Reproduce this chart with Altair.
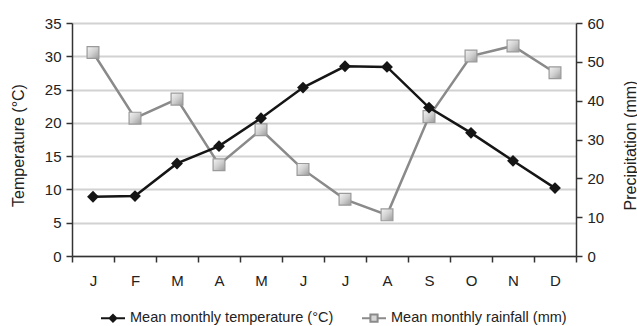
import altair as alt
import pandas as pd

months = ["Jan", "Feb", "Mar", "Apr", "May", "Jun", "Jul", "Aug", "Sep", "Oct", "Nov", "Dec"]
temperature = [8.9, 9.0, 13.9, 16.5, 20.7, 25.3, 28.5, 28.4, 22.3, 18.5, 14.3, 10.2]
rainfall = [52.4, 35.5, 40.4, 23.5, 32.5, 22.3, 14.6, 10.6, 35.9, 51.5, 54.1, 47.2]
series = ["Mean monthly temperature (°C)", "Mean monthly rainfall (mm)"]

df = pd.DataFrame({"month": months, "temp": temperature, "rain": rainfall})
leg_df = pd.DataFrame({"series": series})

FONT = "Liberation Sans"

x_enc = alt.X(
    "month:N",
    sort=months,
    scale=alt.Scale(type="band", paddingInner=0, paddingOuter=0),
    axis=alt.Axis(
        title=None, labelAngle=0, labelExpr="substring(datum.label, 0, 1)",
        tickBand="extent", tickSize=6, tickColor="#333", domainColor="#333",
        domainWidth=1.5, tickWidth=1.5, labelFontSize=15, labelPadding=11,
        labelColor="#222", labelFont=FONT, grid=False,
    ),
)

y_temp = alt.Y(
    "temp:Q",
    scale=alt.Scale(domain=[0, 35], nice=False),
    axis=alt.Axis(
        title="Temperature (°C)", orient="left", values=list(range(0, 36, 5)),
        grid=True, gridColor="#d2d2d2", gridWidth=2, domainColor="#333",
        domainWidth=1.5, tickColor="#333", tickWidth=1.5, tickSize=6,
        labelFontSize=15, labelColor="#222", labelFont=FONT, labelPadding=5,
        titleFontSize=16, titleFontWeight="normal", titleFont=FONT,
        titleColor="#222", titleX=-54, titleY=122, titleAlign="center",
        titleBaseline="middle", titleAngle=270,
    ),
)

y_rain = alt.Y(
    "rain:Q",
    scale=alt.Scale(domain=[0, 60], nice=False),
    axis=alt.Axis(
        title="Precipitation (mm)", orient="right", values=list(range(0, 61, 10)),
        grid=False, domainColor="#333", domainWidth=1.5, tickColor="#333",
        tickWidth=1.5, tickSize=6, labelFontSize=15, labelColor="#222",
        labelFont=FONT, labelPadding=5, titleFontSize=16,
        titleFontWeight="normal", titleFont=FONT, titleColor="#222",
        titleAngle=270, titleX=54, titleY=122, titleAlign="center",
        titleBaseline="middle",
    ),
)

base = alt.Chart(df)

rain_grad = alt.LinearGradient(
    gradient="linear",
    stops=[alt.GradientStop(color="#f4f4f4", offset=0),
           alt.GradientStop(color="#d0d0d0", offset=0.5),
           alt.GradientStop(color="#9a9a9a", offset=1)],
    x1=0, y1=0, x2=1, y2=1,
)

rain_line = base.mark_line(color="#8a8a8a", strokeWidth=2.5).encode(x=x_enc, y=y_rain)
rain_pts = base.mark_point(
    shape="square", size=140, filled=True, fill=rain_grad, stroke="#9a9a9a",
    strokeWidth=1.2, opacity=1,
).encode(x=x_enc, y=y_rain)

temp_line = base.mark_line(color="#151515", strokeWidth=2.5).encode(x=x_enc, y=y_temp)
temp_pts = base.mark_point(
    shape="diamond", size=140, filled=True, color="#151515", opacity=1,
).encode(x=x_enc, y=y_temp)

paths = [
    "M-1,0H-0.28M0.28,0H1M0,-0.28L0.28,0L0,0.28L-0.28,0Z",
    "M-1,0H-0.3M0.3,0H1M-0.3,-0.3H0.3V0.3H-0.3Z",
]

legend_layer = alt.Chart(leg_df).transform_filter("false").mark_point(
    filled=True, opacity=1
).encode(
    shape=alt.Shape("series:N", scale=alt.Scale(domain=series, range=paths),
                    legend=alt.Legend(title=None)),
    fill=alt.Fill("series:N", scale=alt.Scale(domain=series, range=["#151515", "#d6d6d6"]),
                  legend=alt.Legend(title=None)),
    stroke=alt.Stroke("series:N", scale=alt.Scale(domain=series, range=["#151515", "#8a8a8a"]),
                      legend=alt.Legend(title=None)),
)

temp_layer = alt.layer(temp_line, temp_pts, legend_layer)
rain_layer = alt.layer(rain_line, rain_pts)

chart = alt.layer(rain_layer, temp_layer).resolve_scale(y="independent").properties(
    width=504, height=233,
    autosize=alt.AutoSizeParams(type="none"),
    padding={"left": 72, "top": 23, "right": 61, "bottom": 70},
).configure_view(strokeWidth=0).configure_legend(
    orient="none", direction="horizontal", legendX=28, legendY=282,
    symbolSize=576, symbolStrokeWidth=2, labelFontSize=14.5, labelFont=FONT,
    labelColor="#222", columnPadding=24, labelOffset=4, labelLimit=0,
)

chart.save("out.html", embed_options={"renderer": "svg", "actions": False})
